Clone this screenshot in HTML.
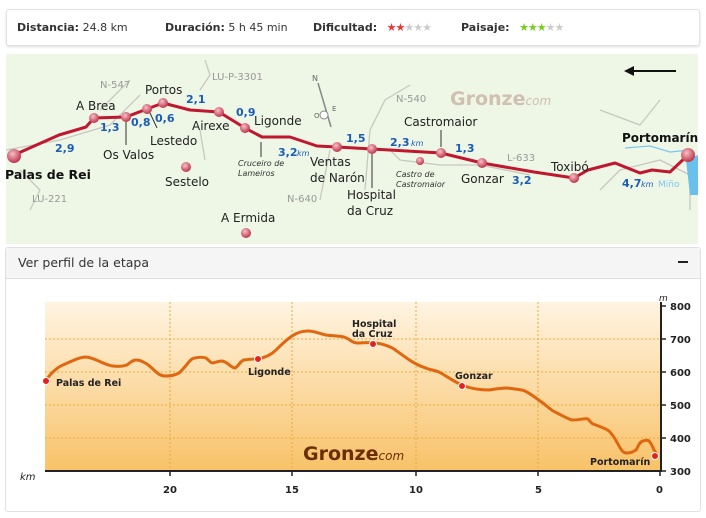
<!DOCTYPE html>
<html><head><meta charset="utf-8"><style>
body{margin:0;width:706px;height:518px;background:#fff;font-family:"DejaVu Sans","Liberation Sans",sans-serif;overflow:hidden;position:relative}
.box{position:absolute;left:6px;top:9px;width:692px;height:35px;border:1px solid #e2e2e2;border-radius:3px;box-shadow:0 1px 2px #ddd;font-size:11px;color:#333}
.box span{position:absolute;top:11px}
.box b{font-weight:bold}
.st{position:static!important;font-size:11px;letter-spacing:-1px}
.panel{position:absolute;left:5px;top:247px;width:694px;height:263px;border:1px solid #e0e0e0;border-radius:3px}
.hdr{height:30px;background:#f5f5f5;border-bottom:1px solid #e0e0e0;font-size:12.5px;color:#333;line-height:30px;padding-left:12px;position:relative}
</style></head><body>
<div class="box">
<span style="left:10px"><b>Distancia:</b> 24.8 km</span>
<span style="left:158px"><b>Duración:</b> 5 h 45 min</span>
<span style="left:306px"><b>Dificultad:</b> <span class="st" style="color:#e33;margin-left:6px">★★</span><span class="st" style="color:#ccc">★★★</span></span>
<span style="left:454px"><b>Paisaje:</b> <span class="st" style="color:#7c2;margin-left:6px">★★★</span><span class="st" style="color:#ccc">★★</span></span>
</div>
<svg style="position:absolute;left:0;top:0" width="706" height="250" font-family="DejaVu Sans,Liberation Sans,sans-serif">
<defs><radialGradient id="b" cx="40%" cy="35%" r="65%"><stop offset="0" stop-color="#f6c0c8"/><stop offset="1" stop-color="#c0344a"/></radialGradient></defs>
<rect x="6" y="54" width="692" height="190" fill="#eef6e6"/>
<g stroke="#c8c8c0" stroke-width="1.3" fill="none">
<path d="M6,150 L60,140 L110,125 L140,95 M100,110 L130,80 M200,90 L210,75 L205,60 M200,130 L205,160 M410,85 L385,100 L370,130 L365,190 M330,150 L320,200 M390,150 L400,160 L440,165 L480,165 L530,175 M600,110 L640,125 L660,100 M600,190 L620,170 L660,160 L690,175 L690,210 M30,210 L40,190 L20,170"/>
</g>
<path d="M625,148 L650,146 L670,152 L690,150" stroke="#7cc6ee" stroke-width="1.2" fill="none"/>
<path d="M686,160 L698,155 L698,195 L690,195 Z" fill="#6ac0ec"/>
<path d="M14,155 L59,135 L86,127 L94,118 L126,117 L147,109 L163,103 L190,110 L219,112 L245,128 L262,137 L290,137 L317,146 L337,147 L372,149 L441,153 L482,163 L534,172 L574,178 L588,170 L615,163 L640,173 L652,170 L670,172 L688,155" stroke="#c0172e" stroke-width="3" fill="none" stroke-linejoin="round"/>
<g fill="url(#b)">
<circle cx="14" cy="156" r="7"/><circle cx="688" cy="155" r="7"/>
<circle cx="94" cy="118" r="5"/><circle cx="126" cy="117" r="5"/><circle cx="147" cy="109" r="5"/><circle cx="163" cy="103" r="5"/><circle cx="219" cy="112" r="5"/><circle cx="245" cy="128" r="5"/><circle cx="337" cy="147" r="5"/><circle cx="372" cy="149" r="5"/><circle cx="441" cy="153" r="5"/><circle cx="482" cy="163" r="5"/><circle cx="574" cy="178" r="5"/><circle cx="186" cy="167" r="5"/><circle cx="246" cy="233" r="5"/><circle cx="420" cy="161" r="4"/>
</g>
<g stroke="#333" stroke-width="1"><line x1="126" y1="122" x2="126" y2="145"/><line x1="150" y1="113" x2="157" y2="128"/><line x1="261" y1="142" x2="261" y2="157"/><line x1="372" y1="154" x2="372" y2="188"/><line x1="441" y1="130" x2="441" y2="147"/></g>
<path d="M626,71 L676,71" stroke="#111" stroke-width="2"/><path d="M624,71 L634,66 L634,76Z" fill="#111"/>
<g font-size="12" fill="#222">
<text x="76" y="110">A Brea</text><text x="145" y="94">Portos</text><text x="103" y="159">Os Valos</text><text x="150" y="145">Lestedo</text><text x="192" y="130">Airexe</text><text x="254" y="125">Ligonde</text><text x="310" y="166">Ventas</text><text x="310" y="182">de Narón</text><text x="347" y="199">Hospital</text><text x="347" y="215">da Cruz</text><text x="404" y="126">Castromaior</text><text x="461" y="183">Gonzar</text><text x="551" y="171">Toxibó</text><text x="165" y="186">Sestelo</text><text x="221" y="222">A Ermida</text>
</g>
<text x="5" y="179" font-size="12.5" font-weight="bold" fill="#111">Palas de Rei</text>
<text x="622" y="142" font-size="12" font-weight="bold" fill="#111">Portomarín</text>
<g font-size="8" font-style="italic" fill="#333"><text x="238" y="166">Cruceiro de</text><text x="238" y="176">Lameiros</text><text x="396" y="177">Castro de</text><text x="396" y="187">Castromaior</text></g>
<g font-size="10" fill="#999"><text x="100" y="88">N-547</text><text x="212" y="80">LU-P-3301</text><text x="396" y="102">N-540</text><text x="32" y="202">LU-221</text><text x="287" y="202">N-640</text><text x="507" y="161">L-633</text></g>
<g font-size="11" font-weight="bold" fill="#1a5cb8"><text x="55" y="152">2,9</text><text x="100" y="131">1,3</text><text x="131" y="126">0,8</text><text x="155" y="122">0,6</text><text x="186" y="103">2,1</text><text x="236" y="116">0,9</text><text x="278" y="156">3,2</text><text x="346" y="142">1,5</text><text x="390" y="146">2,3</text><text x="455" y="152">1,3</text><text x="512" y="184">3,2</text><text x="622" y="187">4,7</text></g>
<g font-size="8" font-style="italic" fill="#1a5cb8"><text x="297" y="156">km</text><text x="411" y="146">km</text><text x="641" y="187">km</text></g>
<text x="658" y="187" font-size="9" fill="#7cc6ee">Miño</text>
<text x="450" y="105" font-size="19" font-weight="bold" fill="#cfc0b2">Gronze<tspan font-size="12" font-weight="normal" font-style="italic">com</tspan></text>
<g transform="translate(324,115)"><path d="M-6,-32 L7,12" stroke="#888" stroke-width="1.5"/><circle r="4" fill="#fff" stroke="#888"/><text x="-12" y="-34" font-size="8" fill="#666">N</text><text x="-10" y="3" font-size="7" fill="#666">O</text><text x="8" y="-4" font-size="7" fill="#666">E</text></g>
</svg>
<div class="panel"><div class="hdr">Ver perfil de la etapa<span style="position:absolute;right:12px;top:13px;width:10px;height:2px;background:#222"></span></div></div>
<svg style="position:absolute;left:0;top:280px" width="706" height="238" font-family="DejaVu Sans,Liberation Sans,sans-serif">
<defs><linearGradient id="g" x1="0" y1="0" x2="0" y2="1"><stop offset="0" stop-color="#fff4e2"/><stop offset="1" stop-color="#f8c268"/></linearGradient></defs>
<g transform="translate(0,-280)">
<rect x="45" y="302" width="615" height="169" fill="url(#g)"/>
<g stroke="#f0a83a" stroke-width="1" stroke-dasharray="2,2"><line x1="45" y1="339" x2="660" y2="339"/><line x1="45" y1="372" x2="660" y2="372"/><line x1="45" y1="405" x2="660" y2="405"/><line x1="45" y1="438" x2="660" y2="438"/><line x1="170" y1="302" x2="170" y2="471"/><line x1="292" y1="302" x2="292" y2="471"/><line x1="416" y1="302" x2="416" y2="471"/><line x1="538" y1="302" x2="538" y2="471"/></g>
<path d="M46,380 C52,372 58,367 63,365 C72,361 80,357 86,357 C96,358 104,365 113,366 C120,367 124,366 127,365 C131,362 133,360 136,360 C141,360 143,362 147,364 C155,370 158,376 165,376 C172,376 175,375 179,373 C187,366 190,358 195,358 C200,357 203,357 206,358 C209,360 210,363 213,363 C217,362 219,361 222,361 C228,362 231,368 235,368 C239,366 240,361 244,360 C250,359 254,359 258,359 C266,357 271,355 276,350 C282,344 286,340 292,336 C298,332 303,331 308,331 C315,331 320,334 326,335 C334,336 339,336 344,337 C350,339 352,343 357,343 C363,343 370,342 376,343 C383,344 389,346 394,349 C405,357 414,364 423,367 C430,370 434,370 439,372 C448,377 456,383 464,386 C473,389 481,390 489,390 C496,389 501,388 507,388 C514,389 520,389 525,391 C533,395 538,400 543,403 C549,408 552,411 557,413 C563,416 568,419 572,420 C580,420 585,418 588,419 C590,421 591,423 593,424 C601,427 605,428 609,431 C614,436 616,441 618,444 C622,452 624,453 627,453 C632,453 634,451 636,450 C638,447 639,442 643,441 C646,440 648,440 649,441 C652,444 653,448 654,450 L657,454" stroke="#e0670f" stroke-width="3" fill="none"/>
<g fill="#e8201a" stroke="#fff" stroke-width="1"><circle cx="46" cy="381" r="3.5"/><circle cx="258" cy="359" r="3.5"/><circle cx="373" cy="344" r="3.5"/><circle cx="462" cy="386" r="3.5"/><circle cx="655" cy="456" r="3.5"/></g>
<g font-size="9.5" font-weight="bold" fill="#222"><text x="56" y="386">Palas de Rei</text><text x="248" y="375">Ligonde</text><text x="352" y="327">Hospital</text><text x="352" y="337">da Cruz</text><text x="455" y="379">Gonzar</text><text x="590" y="465">Portomarín</text></g>
<text x="303" y="460" font-size="19" font-weight="bold" fill="#6b2e08">Gronze<tspan font-size="12" font-weight="normal" font-style="italic">com</tspan></text>
<path d="M45,471 L662,471" stroke="#222" stroke-width="2"/>
<path d="M661,302 L661,472" stroke="#222" stroke-width="2"/>
<g stroke="#222" stroke-width="1.5"><line x1="661" y1="306" x2="666" y2="306"/><line x1="661" y1="339" x2="666" y2="339"/><line x1="661" y1="372" x2="666" y2="372"/><line x1="661" y1="405" x2="666" y2="405"/><line x1="661" y1="438" x2="666" y2="438"/><line x1="661" y1="471" x2="666" y2="471"/><line x1="170" y1="471" x2="170" y2="476"/><line x1="292" y1="471" x2="292" y2="476"/><line x1="416" y1="471" x2="416" y2="476"/><line x1="538" y1="471" x2="538" y2="476"/><line x1="660" y1="471" x2="660" y2="476"/></g>
<g font-size="10" font-weight="bold" fill="#222"><text x="670" y="310">800</text><text x="670" y="343">700</text><text x="670" y="376">600</text><text x="670" y="409">500</text><text x="670" y="442">400</text><text x="670" y="475">300</text>
<text x="163" y="493">20</text><text x="285" y="493">15</text><text x="409" y="493">10</text><text x="535" y="493">5</text><text x="656" y="493">0</text></g>
<text x="659" y="301" font-size="9" font-style="italic" fill="#222">m</text>
<text x="20" y="480" font-size="10" font-style="italic" fill="#222">km</text>
</g></svg>
</body></html>
